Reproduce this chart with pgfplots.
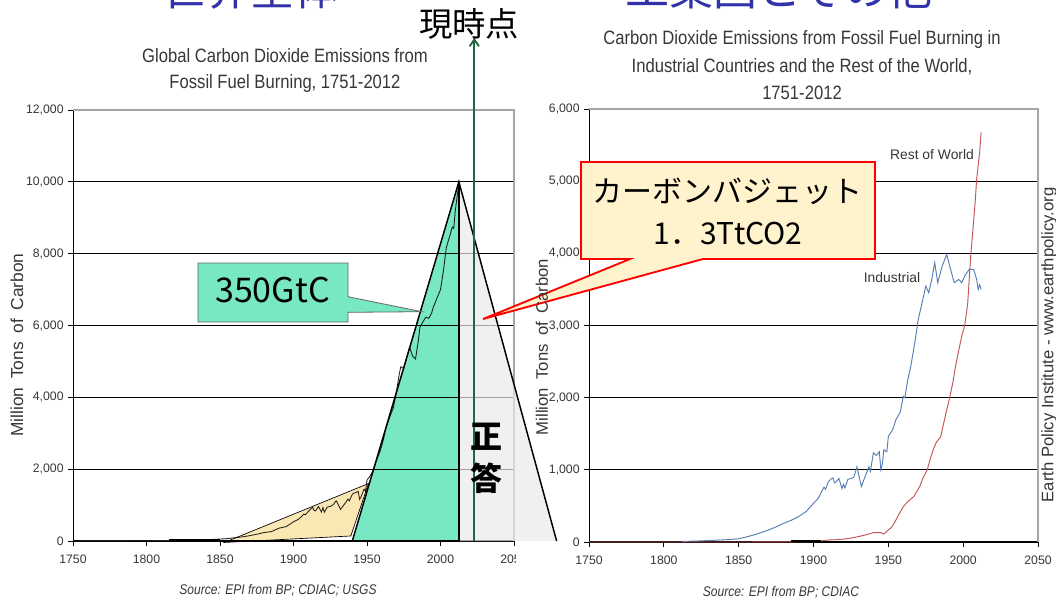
\documentclass[border=0pt]{standalone}
\usepackage{pgfplots}
\pgfplotsset{compat=1.18}
\usepackage{fontspec}
\setmainfont{Liberation Sans}
\newfontfamily\jp{Noto Sans CJK JP}
\usetikzlibrary{arrows.meta}
\definecolor{tealf}{RGB}{120,232,196}
\definecolor{creamf}{RGB}{250,232,180}
\definecolor{grayf}{RGB}{234,234,234}
\definecolor{bluet}{RGB}{50,50,170}
\definecolor{arrowg}{RGB}{30,105,65}
\definecolor{indb}{RGB}{85,125,180}
\definecolor{rowr}{RGB}{195,85,85}
\definecolor{callf}{RGB}{255,243,205}
\definecolor{txt}{RGB}{55,55,55}
\pgfplotsset{epi/.style={scale only axis, axis x line*=bottom, axis y line*=left,
  axis line style={black, line width=0.7pt}, ymajorgrids, grid style={black, line width=0.8pt},
  tick style={black, line width=0.6pt}, tick align=outside, major tick length=3.5pt,
  xmin=1750, xmax=2050, ymin=0, xtick={1750,1800,...,2050},
  scaled ticks=false,
  ticklabel style={font=\fontsize{9.2}{11}\selectfont, text=txt},
  /pgf/number format/assume math mode=true, /pgf/number format/1000 sep={,},
  xticklabel style={/pgf/number format/1000 sep={}, yshift=-3.5pt},
  clip=false}}
\begin{document}
\begin{tikzpicture}
\fill[white] (0,0) rectangle (792pt,456pt);
% ---------------- left chart
\begin{axis}[epi, at={(54.75pt,50.25pt)}, anchor=south west, width=330.75pt, height=323.25pt,
  ymax=12000, ytick={0,2000,...,12000}]
\addplot[black!85, line width=0.65pt] table {
1751 3
1760 3
1770 3
1780 4
1790 6
1800 8
1810 10
1815 12
1820 14
1830 24
1840 33
1850 54
1855 68
1860 91
1865 115
1870 147
1875 188
1880 236
1885 262
1890 356
1895 400
1900 534
1903 595
1905 663
1907 750
1908 730
1910 819
1913 943
1914 850
1915 838
1917 960
1919 807
1920 932
1921 803
1923 946
1925 961
1927 1010
1929 1120
1930 1053
1932 881
1934 989
1936 1099
1937 1167
1938 1119
1940 1299
1941 1334
1942 1342
1944 1381
1945 1160
1946 1238
1948 1443
1949 1386
1950 1700
1952 1800
1954 1950
1956 2200
1958 2400
1959 2510
1961 2800
1963 3160
1965 3400
1968 3720
1970 4150
1972 4660
1973 4850
1975 4800
1977 5110
1979 5400
1981 5150
1983 5070
1985 5600
1986 5950
1988 6100
1990 6230
1992 6200
1994 6350
1995 6500
1997 6700
1999 6900
2000 7000
2002 7530
2004 8180
2006 8450
2008 8740
2009 8700
2010 9170
2011 9500
2012 9800
};
\addplot[black, line width=1.4pt] coordinates {(1815,25)(1850,25)};
\draw[gray!70, line width=0.8pt] (rel axis cs:0,1) -- (rel axis cs:1,1) -- (rel axis cs:1,0);
\coordinate (A) at (axis cs:2012.5,10000);
\coordinate (B) at (axis cs:1940,0);
\coordinate (C) at (axis cs:2012.5,0);
\coordinate (D) at (axis cs:2079,0);
\coordinate (E1) at (axis cs:1853,-40);
\coordinate (E2) at (axis cs:1939,140);
\coordinate (E3) at (axis cs:1951,1600);
\coordinate (G0) at (axis cs:2023,0);
\end{axis}
% ---------------- right chart background
\begin{scope}[x=0.75pt, y=-0.75pt, yshift=456pt]
\fill[white] (516,14) rectangle (1056,608);
\end{scope}
\begin{axis}[epi, at={(441.75pt,49.5pt)}, anchor=south west, width=336.75pt, height=324.75pt,
  ymax=6000, ytick={0,1000,...,6000}]
\addplot[indb, line width=0.7pt] table {
1812 8
1820 12
1830 20
1840 30
1845 36
1850 45
1855 70
1860 97
1865 130
1870 167
1875 210
1880 259
1885 300
1890 352
1895 420
1900 537
1903 600
1905 680
1907 760
1908 730
1910 838
1912 880
1913 889
1914 820
1915 830
1917 880
1919 740
1920 800
1921 750
1923 870
1925 878
1927 900
1929 1042
1930 950
1932 768
1934 880
1936 990
1937 1042
1938 980
1940 1235
1942 1200
1944 1250
1945 1000
1946 1080
1947 1280
1949 1250
1950 1463
1953 1560
1955 1694
1958 1800
1960 2018
1961 2000
1963 2250
1965 2435
1968 2805
1970 3083
1972 3268
1974 3450
1975 3546
1977 3454
1979 3639
1981 3870
1983 3593
1986 3824
1989 3986
1991 3824
1994 3593
1997 3639
1999 3593
2001 3685
2004 3778
2007 3778
2009 3639
2010 3500
2011 3565
2012 3500
};
\addplot[rowr, line width=0.7pt] table {
1750 0
1850 0
1885 2
1900 8
1905 15
1910 28
1915 32
1920 40
1925 55
1930 75
1935 100
1940 130
1945 131
1947 110
1950 167
1952 200
1954 264
1957 380
1960 490
1963 560
1967 630
1969 700
1971 770
1973 880
1976 1000
1978 1150
1980 1280
1982 1380
1985 1460
1987 1650
1989 1830
1991 2000
1993 2200
1995 2450
1997 2650
1999 2850
2001 3000
2003 3300
2005 3960
2006 4200
2008 4704
2009 5028
2011 5398
2012 5676
};
\addplot[black, line width=1.4pt] coordinates {(1885,8)(1905,8)};
\draw[gray!70, line width=0.8pt] (rel axis cs:0,1) -- (rel axis cs:1,1) -- (rel axis cs:1,0);
\end{axis}
% ---------------- overlays
\fill[creamf, blend mode=multiply] (E1) -- (E3) -- (E2) -- cycle;
\draw[black, line width=0.5pt] (E1) -- (E3) -- (E2) -- cycle;
\fill[grayf, opacity=0.7] (A) -- (D) -- (C) -- cycle;
\fill[tealf, blend mode=multiply] (B) -- (A) -- (C) -- cycle;
\draw[black, line width=1.1pt, line join=miter] (B) -- (A) -- (D);
\draw[black, line width=1.8pt] (A) -- (C);
\begin{scope}[x=0.75pt, y=-0.75pt, yshift=456pt]
\coordinate (T) at (0,38);
\draw[arrowg, line width=1.4pt, -{Straight Barb[length=5pt,width=7pt]}] (G0) -- (G0 |- T);
% callouts
\filldraw[fill=tealf, draw=black!60, line width=0.6pt]
  (198,263) -- (348,263) -- (348,296.7) -- (421.7,311.7) -- (348,312.3) -- (348,322) -- (198,322) -- cycle;
\node[font=\jp\fontsize{25.5}{28}\selectfont] at (272.5,290.5) {350GtC};
\filldraw[fill=callf, draw=red, line width=1.4pt, line join=miter]
  (581,162) -- (875,162) -- (875,259) -- (703,259) -- (483,319) -- (630,259) -- (581,259) -- cycle;
\node[font=\jp\fontsize{22.5}{26}\selectfont] at (727,191) {カーボンバジェット};
\node[font=\jp\fontsize{22.5}{26}\selectfont] at (728,234) {1．3TtCO2};
\node[font=\jp\bfseries\fontsize{24}{26}\selectfont] at (486,437) {正};
\node[font=\jp\bfseries\fontsize{24}{26}\selectfont] at (486,478) {答};
\node[anchor=base, font=\jp\fontsize{25}{28}\selectfont] at (469,37) {現時点};
% titles
\node[text=txt] at (285,56) {\scalebox{0.86}[1]{\fontsize{14.5}{17}\selectfont Global Carbon Dioxide Emissions from}};
\node[text=txt] at (285,84) {\scalebox{0.86}[1]{\fontsize{14.5}{17}\selectfont Fossil Fuel Burning, 1751-2012}};
\node[text=txt] at (802,40) {\scalebox{0.86}[1]{\fontsize{14.5}{17}\selectfont Carbon Dioxide Emissions from Fossil Fuel Burning in}};
\node[text=txt] at (802,67) {\scalebox{0.86}[1]{\fontsize{14.5}{17}\selectfont Industrial Countries and the Rest of the World,}};
\node[text=txt] at (802,93) {\scalebox{0.86}[1]{\fontsize{14.5}{17}\selectfont 1751-2012}};
\node[text=txt, rotate=90, font=\fontsize{13}{15}\selectfont] at (17,345) {Million\hspace{0.5em}Tons\hspace{0.5em}of\hspace{0.5em}Carbon};
\node[text=txt, rotate=90, font=\fontsize{12.5}{15}\selectfont] at (542,347) {Million\hspace{0.5em}Tons\hspace{0.5em}of\hspace{0.5em}Carbon};
\node[text=txt] at (278,590) {\scalebox{0.86}[1]{\fontsize{10.5}{12}\selectfont\itshape Source: EPI from BP; CDIAC; USGS}};
\node[text=txt] at (781,592) {\scalebox{0.86}[1]{\fontsize{10.5}{12}\selectfont\itshape Source: EPI from BP; CDIAC}};
\node[text=txt, font=\fontsize{10.4}{12}\selectfont] at (932,155) {Rest of World};
\node[text=txt, font=\fontsize{10.4}{12}\selectfont] at (892,278) {Industrial};
\node[text=txt, rotate=90, font=\fontsize{12.5}{14}\selectfont] at (1049,345) {Earth Policy Institute - www.earthpolicy.org};
\node[anchor=base, text=bluet, font=\jp\fontsize{33}{36}\selectfont] at (250.5,6) {世界全体};
\node[anchor=base, text=bluet, font=\jp\fontsize{33}{36}\selectfont] at (779,6) {工業国とその他};
\end{scope}
\pgfresetboundingbox
\useasboundingbox (0,0) rectangle (792pt,456pt);
\end{tikzpicture}
\end{document}
